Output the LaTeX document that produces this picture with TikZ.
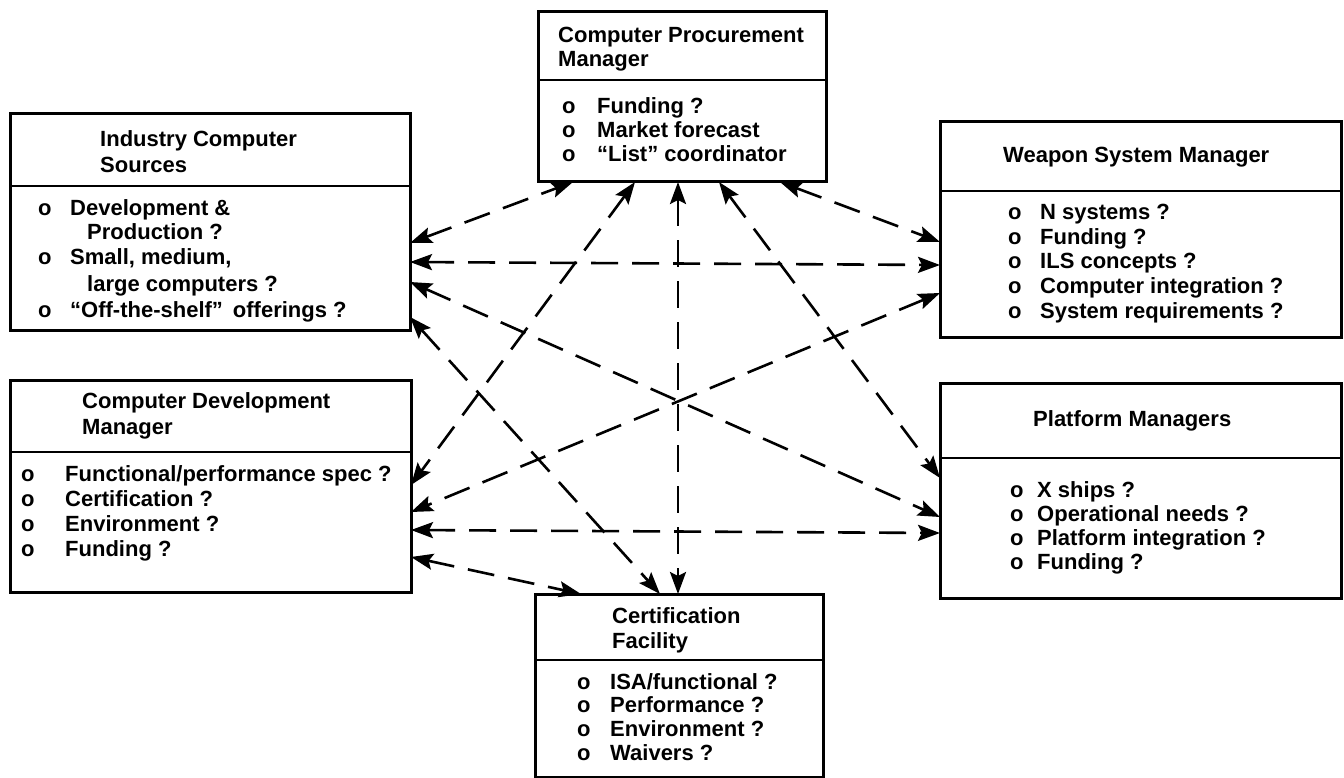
\documentclass[tikz,border=0pt]{standalone}
\usepackage{fontspec}
\setmainfont{Liberation Sans}
\usetikzlibrary{arrows.meta}
\newcommand{\bul}[1]{\makebox[#1][l]{o}}
\begin{document}
\begin{tikzpicture}[x=1pt,y=-1pt,
  panel/.style={draw=black, line width=3pt, rectangle, inner sep=0pt, outer sep=0pt, fill=white},
  divider/.style={draw=black, line width=2.5pt},
  txt/.style={anchor=base west, inner sep=0pt, font=\bfseries\fontsize{22}{24}\selectfont},
  link/.style={line width=2.6pt, dash pattern=on 27pt off 14pt, {Stealth[length=22pt,width=16pt,inset=4pt]}-{Stealth[length=22pt,width=16pt,inset=4pt]}}
]
\useasboundingbox (0,0) rectangle (1344,778);

% ---- boxes ----
\node[panel, minimum width=288pt, minimum height=170pt] (cpm) at (682,97) {};
\node[panel, minimum width=400pt, minimum height=216pt] (ics) at (210,222) {};
\node[panel, minimum width=401pt, minimum height=215pt] (wsm) at (1140.5,229.5) {};
\node[panel, minimum width=401pt, minimum height=212pt] (cdm) at (210.5,486) {};
\node[panel, minimum width=401pt, minimum height=215pt] (pm) at (1140.5,490.5) {};
\node[panel, minimum width=288pt, minimum height=183pt] (cf) at (679,685.5) {};

% ---- header dividers ----
\draw[divider] (cpm.west |- 0,80) -- (cpm.east |- 0,80);
\draw[divider] (ics.west |- 0,186) -- (ics.east |- 0,186);
\draw[divider] (wsm.west |- 0,191) -- (wsm.east |- 0,191);
\draw[divider] (cdm.west |- 0,452) -- (cdm.east |- 0,452);
\draw[divider] (pm.west |- 0,458) -- (pm.east |- 0,458);
\draw[divider] (cf.west |- 0,660) -- (cf.east |- 0,660);

% ---- Computer Procurement Manager ----
\node[txt] (cpm-t1) at (558,43) {Computer Procurement};
\node[txt] (cpm-t2) at (558,67) {Manager};
\node[txt] (cpm-i1) at (562,114) {\bul{35pt}Funding ?};
\node[txt] (cpm-i2) at (562,138) {\bul{35pt}Market forecast};
\node[txt] (cpm-i3) at (562,162) {\bul{35pt}“List” coordinator};

% ---- Industry Computer Sources ----
\node[txt] (ics-t1) at (100,147) {Industry Computer};
\node[txt] (ics-t2) at (100,173) {Sources};
\node[txt] (ics-i1) at (38,215) {\bul{32pt}Development \&};
\node[txt] (ics-i2) at (87,240) {Production ?};
\node[txt] (ics-i3) at (38,265) {\bul{32pt}Small, medium,};
\node[txt] (ics-i4) at (87,291) {large computers ?};
\node[txt] (ics-i5) at (38,317) {\bul{32pt}“Off-the-shelf”\hspace{10pt}offerings ?};

% ---- Weapon System Manager ----
\node[txt] (wsm-t1) at (1003,163) {Weapon System Manager};
\node[txt] (wsm-i1) at (1008,220) {\bul{32pt}N systems ?};
\node[txt] (wsm-i2) at (1008,244) {\bul{32pt}Funding ?};
\node[txt] (wsm-i3) at (1008,268) {\bul{32pt}ILS concepts ?};
\node[txt] (wsm-i4) at (1008,293) {\bul{32pt}Computer integration ?};
\node[txt] (wsm-i5) at (1008,318) {\bul{32pt}System requirements ?};

% ---- Computer Development Manager ----
\node[txt] (cdm-t1) at (82,408) {Computer Development};
\node[txt] (cdm-t2) at (82,434) {Manager};
\node[txt] (cdm-i1) at (21,481) {\bul{44pt}Functional/performance spec ?};
\node[txt] (cdm-i2) at (21,506) {\bul{44pt}Certification ?};
\node[txt] (cdm-i3) at (21,531) {\bul{44pt}Environment ?};
\node[txt] (cdm-i4) at (21,556) {\bul{44pt}Funding ?};

% ---- Platform Managers ----
\node[txt] (pm-t1) at (1033,426) {Platform Managers};
\node[txt] (pm-i1) at (1010,497) {\bul{27pt}X ships ?};
\node[txt] (pm-i2) at (1010,521) {\bul{27pt}Operational needs ?};
\node[txt] (pm-i3) at (1010,545) {\bul{27pt}Platform integration ?};
\node[txt] (pm-i4) at (1010,569) {\bul{27pt}Funding ?};

% ---- Certification Facility ----
\node[txt] (cf-t1) at (612,623) {Certification};
\node[txt] (cf-t2) at (612,648) {Facility};
\node[txt] (cf-i1) at (577,689) {\bul{33pt}ISA/functional ?};
\node[txt] (cf-i2) at (577,712) {\bul{33pt}Performance ?};
\node[txt] (cf-i3) at (577,736) {\bul{33pt}Environment ?};
\node[txt] (cf-i4) at (577,760) {\bul{33pt}Waivers ?};

% ---- two-way dashed links ----
\draw[link] ([yshift=-129pt]ics.north east) -- ([xshift=35pt]cpm.south west);
\draw[link] ([xshift=242pt]cpm.south west) -- ([yshift=-120pt]wsm.north west);
\draw[link] ([yshift=-148pt]ics.north east) -- ([yshift=-143pt]wsm.north west);
\draw[link] ([yshift=-168pt]ics.north east) -- ([yshift=-134pt]pm.north west);
\draw[link] ([yshift=-203pt]ics.north east) -- ([xshift=125pt]cf.north west);
\draw[link] ([xshift=97pt]cpm.south west) -- ([yshift=-105pt]cdm.north east);
\draw[link] ([xshift=140pt]cpm.south west) -- ([xshift=143pt]cf.north west);
\draw[link] ([xshift=181pt]cpm.south west) -- ([yshift=-95pt]pm.north west);
\draw[link] ([yshift=-171pt]wsm.north west) -- ([yshift=-132pt]cdm.north east);
\draw[link] ([yshift=-150pt]cdm.north east) -- ([yshift=-150pt]pm.north west);
\draw[link] ([yshift=-177pt]cdm.north east) -- ([xshift=46pt]cf.north west);
\end{tikzpicture}
\end{document}
